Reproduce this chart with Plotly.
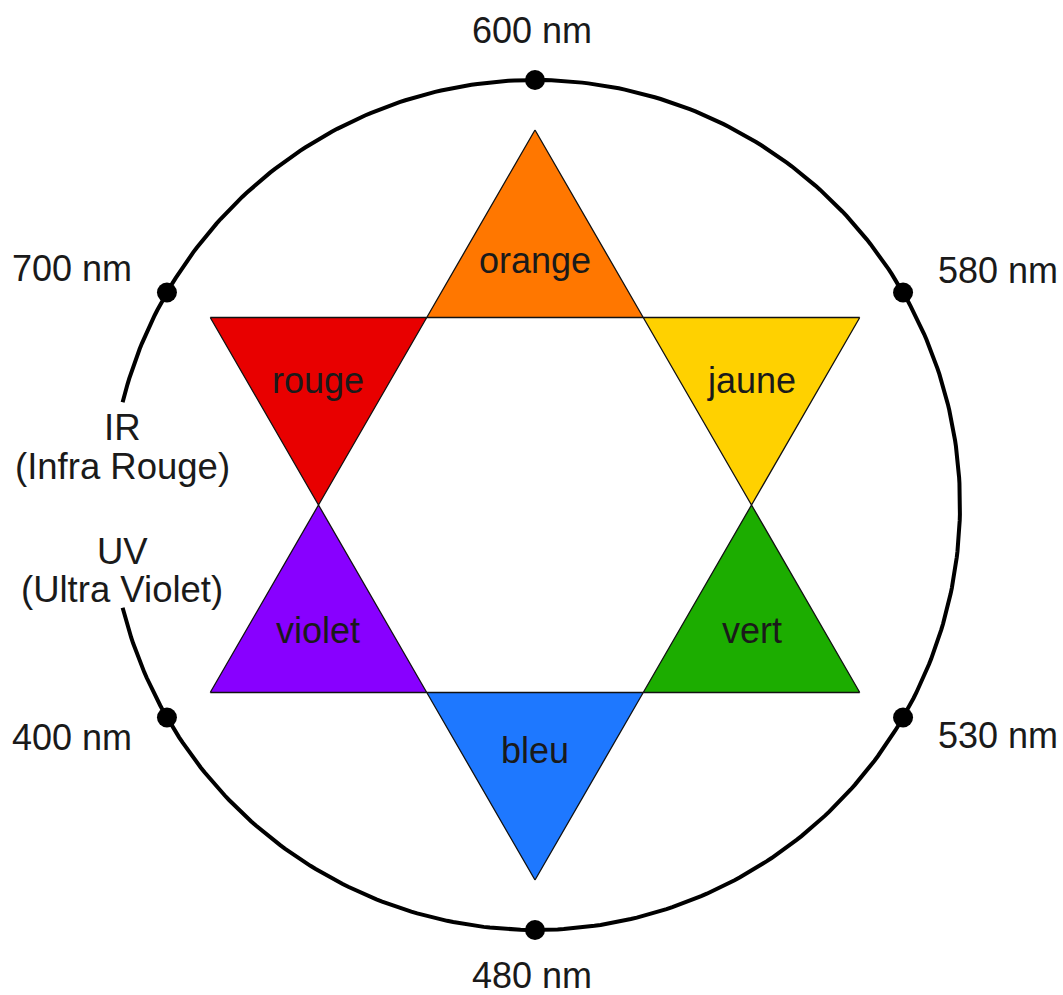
import numpy as np
import plotly.graph_objects as go

# ---- data ----
color_names = ["orange", "jaune", "vert", "bleu", "violet", "rouge"]
color_fills = ["#FF7700", "#FFD100", "#1CAD00", "#1E78FF", "#8800FF", "#E80000"]
point_angles = [90, 30, -30, -90, -150, 150]          # degrees, direction of each star point
wavelengths = ["600 nm", "580 nm", "530 nm", "480 nm", "400 nm", "700 nm"]
side_labels = [("IR", 78), ("(Infra Rouge)", 39), ("UV", -46), ("(Ultra Violet)", -84)]

# ---- geometry (px-like units, centre at 0,0) ----
R_CIRCLE = 425
R_STAR = 375
R_INNER = R_STAR / np.sqrt(3)
GAP = 14  # half-gap of the circle on the left side, degrees
FONT = "Liberation Sans, Arial, sans-serif"
TXT = "#1a1a1a"

fig = go.Figure()

# circle with a gap on the left
t = np.radians(np.linspace(180 + GAP, 540 - GAP, 400))
fig.add_trace(go.Scatter(x=R_CIRCLE * np.cos(t), y=R_CIRCLE * np.sin(t), mode="lines",
                         line=dict(color="black", width=4), hoverinfo="skip"))

# star triangles
for name, col, a in zip(color_names, color_fills, point_angles):
    angs = np.radians([a, a - 30, a + 30, a])
    rad = np.array([R_STAR, R_INNER, R_INNER, R_STAR])
    xs, ys = rad * np.cos(angs), rad * np.sin(angs)
    fig.add_trace(go.Scatter(x=xs, y=ys, mode="lines", fill="toself", fillcolor=col,
                             line=dict(color="#111111", width=1.3), hoverinfo="skip"))
    cx, cy = xs[:3].mean(), ys[:3].mean()
    fig.add_annotation(x=cx, y=cy, text=name, showarrow=False,
                       font=dict(family=FONT, size=36, color=TXT),
                       yshift=(-5 if a == 90 else (5 if a == -90 else 0)))

# dots on the circle + wavelength labels
dx = R_CIRCLE * np.cos(np.radians(point_angles))
dy = R_CIRCLE * np.sin(np.radians(point_angles))
fig.add_trace(go.Scatter(x=dx, y=dy, mode="markers",
                         marker=dict(color="black", size=20), hoverinfo="skip"))
for wl, a, x0, y0 in zip(wavelengths, point_angles, dx, dy):
    if a == 90:
        kw = dict(xanchor="center", yanchor="middle", yshift=50, xshift=-3)
    elif a == -90:
        kw = dict(xanchor="center", yanchor="middle", yshift=-45, xshift=-3)
    elif abs(a) < 90:
        kw = dict(xanchor="left", yanchor="middle", xshift=33, yshift=(22 if a > 0 else -18))
    else:
        kw = dict(xanchor="right", yanchor="middle", xshift=-33, yshift=(24 if a > 0 else -20))
    fig.add_annotation(x=x0, y=y0, text=wl, showarrow=False,
                       font=dict(family=FONT, size=36, color=TXT), **kw)

# IR / UV labels in the circle gap
for txt, yy in side_labels:
    fig.add_annotation(x=-R_CIRCLE + 12, y=yy, text=txt, showarrow=False,
                       xanchor="center", yanchor="middle",
                       font=dict(family=FONT, size=36.5, color=TXT))

fig.update_layout(
    width=1063, height=995, autosize=False,
    margin=dict(l=0, r=0, t=0, b=0),
    paper_bgcolor="white", plot_bgcolor="white",
    showlegend=False,
    xaxis=dict(range=[-535, 528], visible=False, fixedrange=True),
    yaxis=dict(range=[-490, 505], visible=False, fixedrange=True),
)
fig.write_html("out.html", config={"displayModeBar": False},
               post_script="document.body.style.margin='0';document.body.style.overflow='hidden';")
